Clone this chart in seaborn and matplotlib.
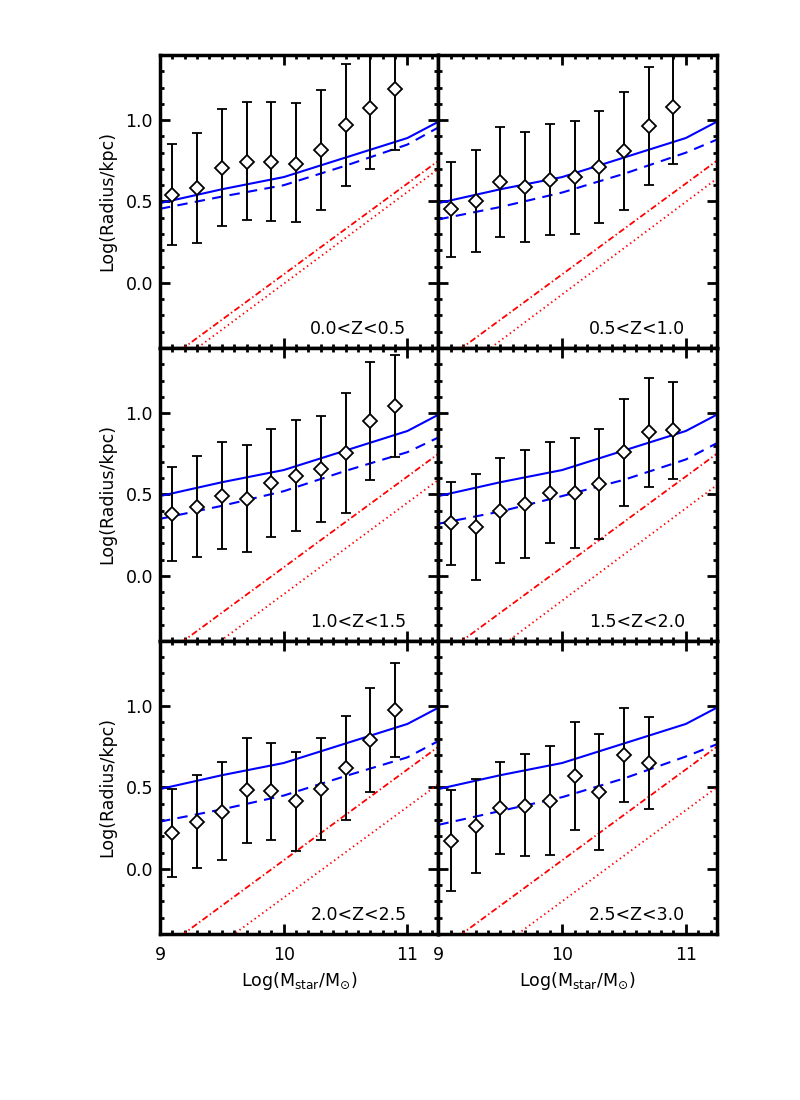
import numpy as np
import seaborn as sns
from matplotlib import pyplot as plt
from matplotlib.ticker import MultipleLocator

# Size-mass relation in six redshift bins

z_bins = ["0.0<Z<0.5", "0.5<Z<1.0", "1.0<Z<1.5", "1.5<Z<2.0", "2.0<Z<2.5", "2.5<Z<3.0"]

mass_bins = [9.1, 9.3, 9.5, 9.7, 9.9, 10.1, 10.3, 10.5, 10.7, 10.9]

# median log radius per bin and the ends of the error bars
radius = [
    [0.542, 0.585, 0.706, 0.743, 0.743, 0.733, 0.817, 0.967, 1.072, 1.189],
    [0.452, 0.501, 0.620, 0.587, 0.632, 0.651, 0.710, 0.809, 0.963, 1.082],
    [0.378, 0.425, 0.493, 0.472, 0.573, 0.616, 0.657, 0.754, 0.949, 1.045],
    [0.322, 0.298, 0.398, 0.439, 0.511, 0.507, 0.565, 0.758, 0.881, 0.893],
    [0.218, 0.290, 0.351, 0.484, 0.476, 0.414, 0.492, 0.622, 0.790, 0.976],
    [0.173, 0.261, 0.373, 0.388, 0.418, 0.569, 0.473, 0.698, 0.653],
]
radius_hi = [
    [0.852, 0.922, 1.068, 1.109, 1.109, 1.103, 1.187, 1.345, 1.446, 1.560],
    [0.743, 0.819, 0.959, 0.928, 0.973, 0.996, 1.055, 1.170, 1.324, 1.435],
    [0.667, 0.735, 0.821, 0.801, 0.903, 0.959, 0.979, 1.123, 1.316, 1.355],
    [0.575, 0.624, 0.721, 0.774, 0.821, 0.848, 0.903, 1.084, 1.216, 1.193],
    [0.488, 0.578, 0.657, 0.806, 0.771, 0.716, 0.806, 0.939, 1.108, 1.267],
    [0.486, 0.551, 0.657, 0.704, 0.753, 0.902, 0.831, 0.990, 0.935],
]
radius_lo = [
    [0.234, 0.246, 0.349, 0.386, 0.382, 0.374, 0.446, 0.593, 0.698, 0.819],
    [0.158, 0.189, 0.281, 0.248, 0.294, 0.300, 0.368, 0.448, 0.600, 0.729],
    [0.090, 0.117, 0.164, 0.148, 0.240, 0.277, 0.329, 0.386, 0.587, 0.731],
    [0.066, -0.023, 0.080, 0.111, 0.201, 0.168, 0.228, 0.429, 0.544, 0.593],
    [-0.051, 0.004, 0.055, 0.159, 0.178, 0.112, 0.176, 0.302, 0.469, 0.688],
    [-0.137, -0.027, 0.090, 0.076, 0.082, 0.239, 0.118, 0.408, 0.369],
]

# model curves
model_mass = [9.0, 9.5, 10.0, 10.5, 11.0, 11.25]
local_relation = [0.49, 0.575, 0.65, 0.77, 0.89, 0.99]
dashed_model = [
    [0.455, 0.53, 0.60, 0.72, 0.85, 0.955],
    [0.39, 0.466, 0.555, 0.67, 0.80, 0.88],
    [0.35, 0.43, 0.52, 0.645, 0.76, 0.85],
    [0.32, 0.395, 0.49, 0.59, 0.715, 0.815],
    [0.29, 0.365, 0.45, 0.57, 0.685, 0.785],
    [0.27, 0.355, 0.44, 0.555, 0.69, 0.765],
]
line_mass = [9.0, 11.25]
dashdot_line = [-0.506, 0.75]
dotted_line = [
    [-0.57, 0.70],
    [-0.64, 0.64],
    [-0.675, 0.59],
    [-0.72, 0.557],
    [-0.735, 0.52],
    [-0.76, 0.50],
]

sns.set_style("ticks")
plt.rcParams["font.family"] = ["DejaVu Sans"]
plt.rcParams["font.size"] = 12
plt.rcParams["text.color"] = "black"
plt.rcParams["axes.labelcolor"] = "black"
plt.rcParams["xtick.color"] = "black"
plt.rcParams["ytick.color"] = "black"
plt.rcParams["xtick.direction"] = "in"
plt.rcParams["ytick.direction"] = "in"

fig, axes = plt.subplots(3, 2, figsize=(8, 11), dpi=100, sharex=True, sharey=True)
fig.subplots_adjust(left=0.2, right=0.896, top=0.95, bottom=0.151, wspace=0, hspace=0)

for i, ax in enumerate(axes.flat):
    sns.lineplot(x=model_mass, y=local_relation, ax=ax, color="blue", lw=1.5)
    sns.lineplot(x=model_mass, y=dashed_model[i], ax=ax, color="blue", lw=1.5,
                 linestyle=(0, (5, 3.5)))
    sns.lineplot(x=line_mass, y=dashdot_line, ax=ax, color="red", lw=1.3,
                 linestyle=(0, (3.5, 1.5, 0.8, 1.5)))
    sns.lineplot(x=line_mass, y=dotted_line[i], ax=ax, color="red", lw=1.3,
                 linestyle=(0, (0.8, 1.8)))

    n = len(radius[i])
    y = np.array(radius[i])
    yerr = [y - np.array(radius_lo[i]), np.array(radius_hi[i]) - y]
    ax.errorbar(mass_bins[:n], y, yerr=yerr, fmt="D", ms=7, mfc="white",
                mec="black", mew=1.3, ecolor="black", elinewidth=1.4,
                capsize=3.5, capthick=1.4, zorder=5)

    ax.text(0.885, 0.065, z_bins[i], transform=ax.transAxes, ha="right",
            va="center", fontsize=12.5, color="black")

    ax.set_xlim(9, 11.25)
    ax.set_ylim(-0.4, 1.4)
    ax.xaxis.set_major_locator(MultipleLocator(1))
    ax.xaxis.set_minor_locator(MultipleLocator(0.1))
    ax.yaxis.set_major_locator(MultipleLocator(0.5))
    ax.yaxis.set_minor_locator(MultipleLocator(0.1))
    ax.tick_params(which="both", direction="in", top=True, right=True,
                   color="black", labelcolor="black", labelsize=12.5)
    ax.tick_params(which="major", length=7.5, width=2, pad=5)
    ax.tick_params(which="minor", length=3, width=2)
    ax.tick_params(axis="x", which="major", pad=9)
    for s in ax.spines.values():
        s.set_linewidth(2.5)
        s.set_color("black")
    ax.set_yticks([0.0, 0.5, 1.0])
    ax.set_yticklabels(["0.0", "0.5", "1.0"])
    ax.set_xlabel("")
    ax.set_ylabel("")
    if i % 2 == 0:
        ax.set_ylabel("Log(Radius/kpc)", fontsize=12.5, labelpad=7)
    if i >= 4:
        ax.set_xlabel(r"Log(M$_{\mathrm{star}}$/M$_{\odot}$)", fontsize=12.5, labelpad=4)

axes[2, 0].set_xticks([9, 10, 11])
axes[2, 0].set_xticklabels(["9", "10", "11"])

plt.savefig("out.png", dpi=100)
